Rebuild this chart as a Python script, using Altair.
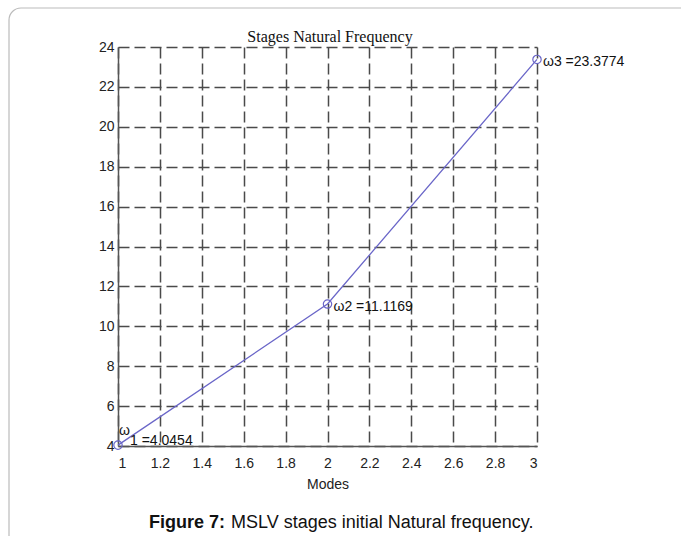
import altair as alt
import pandas as pd

# Natural frequencies of the three stages
modes = [1, 2, 3]
frequencies = [4.0454, 11.1169, 23.3774]
freq_text = ["4.0454", "11.1169", "23.3774"]

x_ticks = [1, 1.2, 1.4, 1.6, 1.8, 2, 2.2, 2.4, 2.6, 2.8, 3]
y_ticks = [4, 6, 8, 10, 12, 14, 16, 18, 20, 22, 24]

LINE = "#6a66c8"
GRID = "#4a4a4a"
LABEL_FONT = "Liberation Sans"

df = pd.DataFrame({
    "mode": modes,
    "freq": frequencies,
    "label": [f"ω{m} ={t}" for m, t in zip(modes, freq_text)],
    "tail": [f"{m} ={t}" for m, t in zip(modes, freq_text)],
})

W, H = 419, 399
LEFT, TOP = 118, 47

x_enc = alt.X(
    "mode:Q",
    scale=alt.Scale(domain=[1, 3], nice=False, zero=False),
    axis=alt.Axis(
        values=x_ticks, format="~g", title="Modes", grid=True,
        gridDash=[11, 5], gridColor=GRID, gridWidth=1.5, gridOpacity=1,
        domainColor="#555", domainWidth=1.5, ticks=False, labelOverlap=False,
        labelFont=LABEL_FONT, labelFontSize=14, labelColor="#222",
        labelPadding=10, titleFont=LABEL_FONT, titleFontSize=14,
        titleFontWeight="normal", titleColor="#222", titlePadding=7,
    ),
)
y_enc = alt.Y(
    "freq:Q",
    scale=alt.Scale(domain=[4, 24], nice=False, zero=False),
    axis=alt.Axis(
        values=y_ticks, tickCount=11, title=None, grid=True,
        gridDash=[11, 5], gridColor=GRID, gridWidth=1.5, gridOpacity=1,
        domainColor="#555", domainWidth=1.5, ticks=False,
        labelOverlap=False, labelFlush=False,
        labelFont=LABEL_FONT, labelFontSize=14, labelColor="#222",
        labelPadding=4,
    ),
)

# All data layers share the same axis definitions
base = alt.Chart(df).encode(x=x_enc, y=y_enc)

line = base.mark_line(color=LINE, strokeWidth=1.3)
points = base.mark_point(
    shape="circle", size=70, filled=False, color=LINE, strokeWidth=1.2, opacity=1
)

text_style = dict(font=LABEL_FONT, fontSize=14, color="#111", align="left", baseline="middle")

labels = base.transform_filter("datum.mode > 1").mark_text(dx=6, dy=3, **text_style).encode(
    text="label:N"
)
omega1 = base.transform_filter("datum.mode == 1").mark_text(dx=1, dy=-14, **text_style).encode(
    text=alt.value("ω")
)
tail1 = base.transform_filter("datum.mode == 1").mark_text(dx=12, dy=-4, **text_style).encode(
    text="tail:N"
)

# Plot title above the axes
title = alt.Chart(pd.DataFrame({"t": ["Stages Natural Frequency"]})).mark_text(
    font="Liberation Serif", fontSize=16, color="#111",
    align="center", baseline="alphabetic",
).encode(x=alt.value(330 - LEFT), y=alt.value(42 - TOP), text="t:N")

# Caption under the figure
caption_bold = alt.Chart(pd.DataFrame({"t": ["Figure 7:"]})).mark_text(
    font="Liberation Sans", fontSize=18, fontWeight="bold", color="#111",
    align="left", baseline="alphabetic",
).encode(x=alt.value(149 - LEFT), y=alt.value(528 - TOP), text="t:N")
caption_rest = alt.Chart(pd.DataFrame({"t": ["MSLV stages initial Natural frequency."]})).mark_text(
    font="Liberation Sans", fontSize=18, color="#111",
    align="left", baseline="alphabetic",
).encode(x=alt.value(231 - LEFT), y=alt.value(528 - TOP), text="t:N")

# Rounded frame around the figure
frame = alt.Chart(pd.DataFrame({"k": [0]})).mark_rect(
    fill=None, stroke="#bbbbbb", strokeWidth=1.2, cornerRadius=12
).encode(
    x=alt.value(9 - LEFT), x2=alt.value(700 - LEFT),
    y=alt.value(8 - TOP), y2=alt.value(560 - TOP),
)

chart = alt.layer(
    frame, line, points, labels, omega1, tail1, title, caption_bold, caption_rest
).properties(
    width=W, height=H,
    padding={"left": LEFT, "top": TOP, "right": 681 - LEFT - W, "bottom": 536 - TOP - H},
    autosize=alt.AutoSizeParams(type="none"),
    background="white",
).configure_view(stroke=None)

chart.save("out.html", embed_options={"renderer": "svg", "actions": False})
